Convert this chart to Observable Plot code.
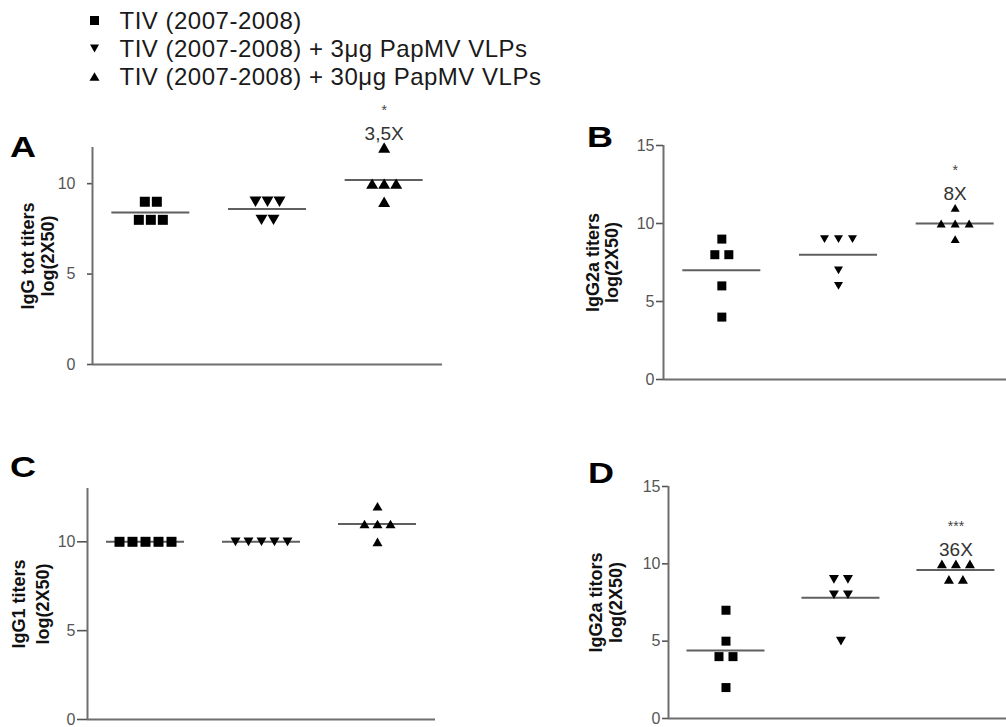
<!DOCTYPE html>
<html><head><meta charset="utf-8">
<script src="https://cdn.jsdelivr.net/npm/d3@7"></script>
<script src="https://cdn.jsdelivr.net/npm/@observablehq/plot@0.6"></script>
<style>
html,body{margin:0;padding:0;background:#fff;overflow:hidden;}
#fig{position:relative;width:1006px;height:727px;overflow:hidden;font-family:"Liberation Sans",Arial,sans-serif;}
.panel{position:absolute;}
.letter{position:absolute;font:bold 30px/30px "Liberation Sans",Arial,sans-serif;color:#000;transform:scaleX(1.2);transform-origin:left top;}
</style></head><body><div id="fig"></div>
<script>
// ---------------- data ----------------
const groups = ["TIV (2007-2008)", "TIV (2007-2008) + 3μg PapMV VLPs", "TIV (2007-2008) + 30μg PapMV VLPs"];
const panelLetters = ["A", "B", "C", "D"];
const yLabelLine1 = ["IgG tot titers", "IgG2a titers", "IgG1 titers", "IgG2a titors"];
const yLabelLine2 = ["log(2X50)", "log(2X50)", "log(2X50)", "log(2X50)"];
const yTicksAC = [0, 5, 10];
const yTicksBD = [0, 5, 10, 15];

const A_tiv = [9, 9, 8, 8, 8];
const A_vlp3 = [9, 9, 9, 8, 8];
const A_vlp30 = [12, 10, 10, 10, 9];

const B_tiv = [9, 8, 8, 6, 4];
const B_vlp3 = [9, 9, 9, 7, 6];
const B_vlp30 = [11, 10, 10, 10, 9];

const C_tiv = [10, 10, 10, 10, 10];
const C_vlp3 = [10, 10, 10, 10, 10];
const C_vlp30 = [12, 11, 11, 11, 10];

const D_tiv = [7, 5, 4, 4, 2];
const D_vlp3 = [9, 9, 8, 8, 5];
const D_vlp30 = [10, 10, 10, 9, 9];

const foldLabels = ["3,5X", "8X", "", "36X"];
const starLabels = ["*", "*", "", "***"];

// ---------------- symbols ----------------
function squareSym(side) { return {draw(ctx) { const h = side / 2; ctx.moveTo(-h, -h); ctx.lineTo(h, -h); ctx.lineTo(h, h); ctx.lineTo(-h, h); ctx.closePath(); }}; }
function triUpSym(side) { return {draw(ctx) { const h = side * Math.sqrt(3) / 2, w = side / 2; ctx.moveTo(0, -h / 2); ctx.lineTo(w, h / 2); ctx.lineTo(-w, h / 2); ctx.closePath(); }}; }
function triDownSym(side) { return {draw(ctx) { const h = side * Math.sqrt(3) / 2, w = side / 2; ctx.moveTo(0, h / 2); ctx.lineTo(w, -h / 2); ctx.lineTo(-w, -h / 2); ctx.closePath(); }}; }

const FONT = '"Liberation Sans", Arial, sans-serif';
const fig = document.getElementById("fig");

function place(el, left, top) {
  el.classList.add("panel");
  el.style.left = left + "px";
  el.style.top = top + "px";
  fig.appendChild(el);
}

// ---------------- legend ----------------
const legend = Plot.plot({
  width: 480, height: 92, margin: 0,
  style: {fontFamily: FONT, background: "transparent", letterSpacing: "0.5px"},
  x: {domain: [0, 1], axis: null},
  y: {type: "point", domain: groups, range: [21, 77], padding: 0, axis: null},
  symbol: {domain: groups, range: [squareSym(9), triDownSym(9), triUpSym(10)]},
  marks: [
    Plot.dot(groups, {y: d => d, symbol: d => d, frameAnchor: "left", dx: 14, dy: -1, fill: "#000", stroke: "none"}),
    Plot.text(groups, {y: d => d, text: d => d, frameAnchor: "left", dx: 39, textAnchor: "start", fontSize: 24, fill: "#1a1a1a"})
  ]
});
place(legend, 80, 0);

// ---------------- panels ----------------
const panels = [
  {series: [A_tiv, A_vlp3, A_vlp30], left: 0, top: 120, width: 460, height: 260, ml: 92, mt: 27, mr: 18, mb: 16,
   yMax: 12, ticks: yTicksAC, xMax: 2.5, sq: 10, tri: 12, spacing: 12, tickSize: 5, tickPadding: 12, labelDx: -55, lh: 1.1,
   letterPos: [10, 132]},
  {series: [B_tiv, B_vlp3, B_vlp30], left: 560, top: 115, width: 446, height: 280, ml: 103, mt: 30, mr: 0, mb: 16,
   yMax: 15, ticks: yTicksBD, xMax: 2.44, sq: 9, tri: 9, spacing: 14, tickSize: 7, tickPadding: 2, labelDx: -61, lh: 1.05,
   letterPos: [587, 122]},
  {series: [C_tiv, C_vlp3, C_vlp30], left: 0, top: 440, width: 455, height: 287, ml: 87, mt: 48, mr: 20, mb: 8,
   yMax: 13, ticks: yTicksAC, xMax: 2.5, sq: 10, tri: 10, spacing: 13, tickSize: 10, tickPadding: 2, labelDx: -58, lh: 1.3,
   letterPos: [10, 452]},
  {series: [D_tiv, D_vlp3, D_vlp30], left: 560, top: 440, width: 446, height: 287, ml: 108, mt: 46, mr: 0, mb: 9,
   yMax: 15, ticks: yTicksBD, xMax: 2.44, sq: 9, tri: 10, spacing: 14, tickSize: 6, tickPadding: 2, labelDx: -63, lh: 1.1,
   letterPos: [588, 458]}
];

panels.forEach((p, pi) => {
  const frameW = p.width - p.ml - p.mr;
  const band = frameW / (p.xMax + 0.5);
  const sp = p.spacing / band;
  const hw = 39 / band;
  const pts = [];
  const means = [];
  p.series.forEach((vals, gi) => {
    const counts = d3.rollup(vals, v => v.length, d => d);
    const seen = new Map();
    vals.forEach(v => {
      const n = counts.get(v), k = seen.get(v) ?? 0;
      seen.set(v, k + 1);
      pts.push({group: groups[gi], value: v, x: gi + (k - (n - 1) / 2) * sp});
    });
    means.push({gi, mean: d3.mean(vals), max: d3.max(vals)});
  });
  const last = means[2];
  const marks = [
    Plot.axisY({ticks: p.ticks, tickSize: p.tickSize, tickPadding: p.tickPadding, fontSize: 16, color: "#555", strokeWidth: 1.6, label: null, tickFormat: d3.format("d")}),
    Plot.ruleY([0], {stroke: "#6e6e6e", strokeWidth: 2}),
    Plot.ruleX([-0.5], {y1: 0, y2: p.yMax, stroke: "#6e6e6e", strokeWidth: 2}),
    Plot.ruleY(means, {y: "mean", x1: d => d.gi - hw, x2: d => d.gi + hw, stroke: "#5f5f5f", strokeWidth: 2}),
    Plot.dot(pts, {x: "x", y: "value", symbol: "group", fill: "#000", stroke: "none"}),
    Plot.text([yLabelLine1[pi] + "\n" + yLabelLine2[pi]], {frameAnchor: "left", rotate: -90, dx: p.labelDx, text: d => d, fontSize: 18, fontWeight: "bold", lineHeight: p.lh, fill: "#111", textAnchor: "middle", lineAnchor: "middle"})
  ];
  if (foldLabels[pi]) {
    marks.push(Plot.text([last], {x: "gi", y: "max", text: () => foldLabels[pi], dy: -14, fontSize: 19, fill: "#333"}));
    marks.push(Plot.text([last], {x: "gi", y: "max", text: () => starLabels[pi], dy: -37, fontSize: 14, fill: "#444"}));
  }
  const svg = Plot.plot({
    width: p.width, height: p.height,
    marginLeft: p.ml, marginTop: p.mt, marginRight: p.mr, marginBottom: p.mb,
    style: {fontFamily: FONT, background: "transparent", overflow: "visible"},
    x: {domain: [-0.5, p.xMax], axis: null},
    y: {domain: [0, p.yMax], axis: null},
    symbol: {domain: groups, range: [squareSym(p.sq), triDownSym(p.tri), triUpSym(p.tri)]},
    marks
  });
  place(svg, p.left, p.top);
  const L = document.createElement("div");
  L.className = "letter";
  L.textContent = panelLetters[pi];
  L.style.left = p.letterPos[0] + "px";
  L.style.top = p.letterPos[1] + "px";
  fig.appendChild(L);
});
</script></body></html>
